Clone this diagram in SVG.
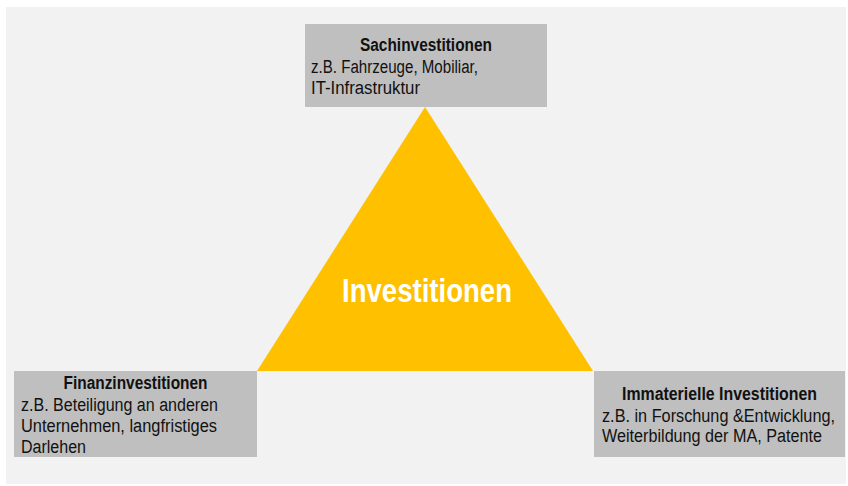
<svg xmlns="http://www.w3.org/2000/svg" width="848" height="486" viewBox="0 0 848 486">
  <style>
    .box { fill: #BFBFBF; }
    .txt { font-family: "Liberation Sans", Arial, sans-serif; font-size: 18px; fill: #111111; }
    .title { font-weight: bold; text-anchor: middle; }
    .core { font-family: "Liberation Sans", Arial, sans-serif; font-size: 33px; font-weight: bold; fill: #FFFFFF; text-anchor: middle; }
  </style>

  <!-- canvas -->
  <rect x="6" y="7" width="840" height="477" fill="#F2F2F2"/>

  <!-- central triangle; narrow lettering is emulated with textLength -->
  <g id="investitionen">
    <polygon points="425,107 593,371 257,371" fill="#FFC000"/>
    <text class="core" x="427" y="302" textLength="170" lengthAdjust="spacingAndGlyphs">Investitionen</text>
  </g>

  <!-- top: tangible assets -->
  <g id="sachinvestitionen">
    <rect class="box" x="305" y="24" width="242" height="83"/>
    <text class="txt title" x="426" y="51" textLength="132" lengthAdjust="spacingAndGlyphs">Sachinvestitionen</text>
    <text class="txt" x="311" y="72.5" textLength="167" lengthAdjust="spacingAndGlyphs">z.B. Fahrzeuge, Mobiliar,</text>
    <text class="txt" x="311" y="93.5" textLength="109" lengthAdjust="spacingAndGlyphs">IT-Infrastruktur</text>
  </g>

  <!-- bottom left: financial investments -->
  <g id="finanzinvestitionen">
    <rect class="box" x="14" y="371" width="243" height="86"/>
    <text class="txt title" x="135.5" y="389" textLength="144" lengthAdjust="spacingAndGlyphs">Finanzinvestitionen</text>
    <text class="txt" x="21" y="410.5" textLength="197" lengthAdjust="spacingAndGlyphs">z.B. Beteiligung an anderen</text>
    <text class="txt" x="21" y="432" textLength="196" lengthAdjust="spacingAndGlyphs">Unternehmen, langfristiges</text>
    <text class="txt" x="21" y="453" textLength="65" lengthAdjust="spacingAndGlyphs">Darlehen</text>
  </g>

  <!-- bottom right: intangible investments -->
  <g id="immaterielle-investitionen">
    <rect class="box" x="594" y="371" width="251" height="86"/>
    <text class="txt title" x="719.5" y="400" textLength="195" lengthAdjust="spacingAndGlyphs">Immaterielle Investitionen</text>
    <text class="txt" x="602" y="421.5" textLength="233" lengthAdjust="spacingAndGlyphs">z.B. in Forschung &amp;Entwicklung,</text>
    <text class="txt" x="602" y="442" textLength="220" lengthAdjust="spacingAndGlyphs">Weiterbildung der MA, Patente</text>
  </g>
</svg>
